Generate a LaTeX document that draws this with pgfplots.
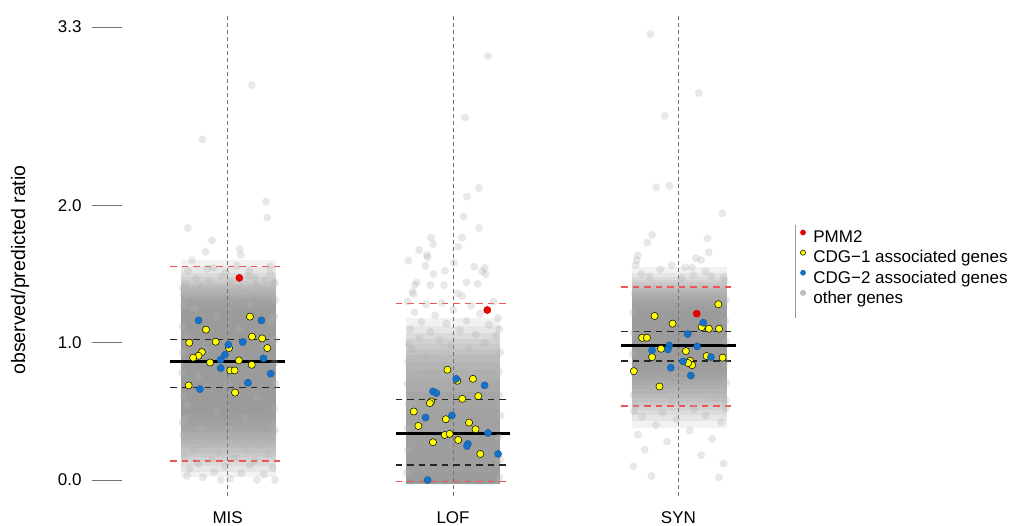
\documentclass[border=0pt]{standalone}
\usepackage{pgfplots}
\pgfplotsset{compat=1.18}
\usepackage{fontspec}
\setmainfont{Liberation Sans}
\definecolor{cdgyellow}{RGB}{255,255,0}
\definecolor{cdgblue}{RGB}{22,114,200}
\definecolor{pmmred}{RGB}{240,0,0}
\definecolor{reddash}{RGB}{238,85,85}
\pgfplotsset{
  cloud/.style={draw=none, fill=black!50, fill opacity=0.105, forget plot},
  gpt/.style={only marks, mark=*, mark size=4pt, mark options={draw opacity=0, fill=black!30, fill opacity=0.3}, forget plot},
  med/.style={black, line width=3.2pt, forget plot},
  quart/.style={black!85, line width=1.3pt, dash pattern=on 6.5pt off 5pt, forget plot},
  ext/.style={reddash, line width=1.3pt, dash pattern=on 6.5pt off 5pt, forget plot},
  vdash/.style={black!55, line width=1pt, dash pattern=on 4pt off 3pt, forget plot},
}
\pgfplotstableread{
lo hi
0.02 1.60
0.06 1.55
0.10 1.51
0.14 1.48
0.17 1.45
0.20 1.43
0.23 1.41
0.26 1.39
0.29 1.37
0.32 1.35
0.35 1.33
0.39 1.31
0.43 1.28
0.48 1.24
}\misbands
\pgfplotstableread{
lo hi
-0.029 1.18
-0.029 1.12
-0.029 1.07
-0.029 1.03
-0.029 0.99
-0.029 0.95
-0.029 0.91
-0.029 0.86
-0.029 0.80
-0.029 0.73
-0.029 0.64
-0.029 0.52
-0.029 0.36
-0.029 0.05
}\lofbands
\pgfplotstableread{
lo hi
0.38 1.55
0.43 1.51
0.47 1.48
0.51 1.46
0.54 1.44
0.57 1.42
0.60 1.40
0.63 1.38
0.66 1.36
0.69 1.34
0.72 1.32
0.75 1.30
0.79 1.27
0.84 1.23
}\synbands
\begin{document}
\begin{tikzpicture}
\path[use as bounding box] (0pt,0pt) rectangle (1011pt,526pt);
\begin{axis}[
  at={(121.7pt,29.5pt)}, anchor=south west,
  x=225.4pt, y=137.3pt,
  xmin=0.53, xmax=3.47, ymin=-0.12, ymax=3.38,
  axis x line*=bottom, axis y line*=left,
  axis line style={draw=none},
  xtick={1,2,3}, xticklabels={MIS,LOF,SYN},
  ytick={0,1,2,3.3}, yticklabels={0.0,1.0,2.0,3.3},
  tick align=outside,
  major tick length=30pt,
  x tick style={draw=none},
  y tick style={draw=black!55, line width=0.8pt},
  ticklabel style={font=\fontsize{17}{20}\selectfont},
  yticklabel style={anchor=east, inner sep=0pt, xshift=-10pt},
  xticklabel style={anchor=base, inner sep=0pt, yshift=3pt},
  legend style={at={(1.0235,0.5556)}, anchor=north west, draw=none, fill=none,
    inner sep=0pt, row sep=3.5pt, column sep=7.5pt,
    font=\fontsize{17}{20}\selectfont,
    nodes={inner sep=0pt, text height=12.5pt, text depth=3.5pt}},
  legend cell align=left,
]
% ---- grey cloud: density layers (one rectangle per row of the band tables) ----
\pgfplotsinvokeforeach{0,...,13}{
  \pgfplotstablegetelem{#1}{lo}\of\misbands \edef\blo{\pgfplotsretval}
  \pgfplotstablegetelem{#1}{hi}\of\misbands \edef\bhi{\pgfplotsretval}
  \edef\temp{\noexpand\addplot[cloud] coordinates {(0.795,\blo) (1.215,\blo) (1.215,\bhi) (0.795,\bhi)};}
  \temp
  \pgfplotstablegetelem{#1}{lo}\of\lofbands \edef\blo{\pgfplotsretval}
  \pgfplotstablegetelem{#1}{hi}\of\lofbands \edef\bhi{\pgfplotsretval}
  \edef\temp{\noexpand\addplot[cloud] coordinates {(1.790,\blo) (2.210,\blo) (2.210,\bhi) (1.790,\bhi)};}
  \temp
  \pgfplotstablegetelem{#1}{lo}\of\synbands \edef\blo{\pgfplotsretval}
  \pgfplotstablegetelem{#1}{hi}\of\synbands \edef\bhi{\pgfplotsretval}
  \edef\temp{\noexpand\addplot[cloud] coordinates {(2.795,\blo) (3.215,\blo) (3.215,\bhi) (2.795,\bhi)};}
  \temp
}
% ---- grey cloud: individual genes ----
\addplot[gpt] coordinates {
(1.107,2.877) (0.888,2.481) (1.170,2.027) (1.176,1.911) (0.823,1.835) (0.930,1.745)
(1.053,1.682) (1.059,1.639) (0.902,1.663) (0.842,1.600) (0.825,1.524) (0.910,1.540)
(0.936,1.546) (1.040,1.560) (1.096,1.520) (1.188,1.500) (1.165,1.456) (0.972,1.481)
(1.092,1.486) (1.188,1.554) (0.860,1.470) (0.815,1.430) (1.010,1.440) (1.130,1.420)
(1.205,1.445) (0.880,1.410) (0.950,1.395) (1.060,1.400) (1.150,1.380) (0.830,1.385)
(0.990,1.510) (1.120,1.470) (0.805,1.350) (1.200,1.340) (0.920,1.450) (1.075,1.360)
(0.820,0.300) (0.900,0.260) (1.010,0.280) (1.150,0.250) (1.200,0.310) (0.850,0.220)
(0.960,0.200) (1.080,0.230) (1.180,0.190) (0.810,0.170) (0.930,0.150) (1.030,0.160)
(1.120,0.140) (0.870,0.120) (0.990,0.100) (1.100,0.110) (1.200,0.090) (0.830,0.080)
(0.940,0.060) (1.060,0.050) (1.160,0.040) (0.890,0.020) (1.010,0.010) (0.970,0.000)
(1.130,0.000) (0.820,0.030) (1.210,0.000)
(0.850,1.250) (0.950,1.200) (1.100,1.280) (1.190,1.150) (0.820,1.050) (1.050,1.100)
(0.900,0.950) (1.160,0.980) (0.870,0.750) (1.000,0.700) (1.130,0.600) (0.820,0.550)
(0.950,0.500) (1.080,0.450) (1.200,0.400) (0.880,0.380) (1.020,0.350) (0.810,0.450)
(0.800,0.420) (0.805,0.610) (0.798,0.780) (0.802,0.930) (0.800,1.120) (0.806,1.270)
(0.803,0.330) (0.800,1.400) (1.210,0.360) (1.205,0.520) (1.212,0.700) (1.208,0.850)
(1.210,1.020) (1.206,1.190) (1.212,1.310) (1.209,1.430)
};
\addplot[gpt] coordinates {
(2.155,3.088) (2.053,2.641) (2.115,2.127) (2.062,2.064) (2.047,1.920) (2.115,1.837)
(1.902,1.765) (1.912,1.719) (2.040,1.765) (2.023,1.699) (1.850,1.675) (1.885,1.640)
(1.887,1.622) (1.802,1.597) (1.877,1.559) (2.004,1.583) (1.964,1.524) (2.094,1.554)
(2.130,1.520) (2.140,1.545) (2.145,1.500) (1.913,1.500) (1.840,1.440) (1.830,1.420)
(1.900,1.420) (1.960,1.420) (2.060,1.440) (2.110,1.430) (1.820,1.370) (1.825,1.355)
(2.020,1.360) (2.040,1.340)
(1.800,1.300) (1.880,1.280) (1.950,1.290) (2.080,1.270) (2.180,1.300) (1.830,1.220)
(1.920,1.200) (2.000,1.240) (2.120,1.210) (2.200,1.180) (1.860,1.150) (1.970,1.140)
(2.060,1.160) (2.160,1.130) (1.810,1.100) (1.900,1.080) (2.030,1.090) (2.100,1.060)
(2.190,1.050) (1.850,1.030) (1.940,1.020) (2.140,1.000) (1.990,0.980) (2.070,0.960)
(1.820,0.950) (1.880,0.900) (2.170,0.880) (1.960,0.860) (2.050,0.820) (1.830,0.780)
(1.795,0.050) (1.800,0.220) (1.798,0.380) (1.802,0.550) (1.797,0.700) (1.800,0.860)
(1.803,0.990) (2.205,0.020) (2.208,0.150) (2.203,0.310) (2.210,0.470) (2.206,0.620)
(2.204,0.790) (2.209,0.930) (2.205,1.100)
};
\addplot[gpt] coordinates {
(2.875,3.248) (3.090,2.819) (2.940,2.653) (2.902,2.132) (2.960,2.143) (3.195,1.942)
(2.883,1.784) (2.862,1.729) (3.129,1.760) (3.134,1.658) (2.820,1.636) (2.815,1.600)
(2.810,1.566) (3.077,1.617) (3.100,1.602) (2.970,1.566) (2.920,1.534) (3.030,1.550)
(3.060,1.548) (3.120,1.520) (2.870,1.480) (3.015,1.470) (3.065,1.490) (3.145,1.485)
(3.200,1.480) (2.835,1.500)
(2.800,0.100) (2.880,0.030) (3.180,0.020) (3.200,0.120) (2.850,0.220) (3.100,0.180)
(2.950,0.280) (3.150,0.300) (2.820,0.330) (3.050,0.360) (2.900,0.400) (3.190,0.420)
(2.990,0.440) (2.840,0.460) (3.120,0.470) (2.930,0.490) (3.070,0.520) (2.810,0.550)
(3.210,0.520) (2.970,0.580) (3.160,0.600)
(2.800,0.620) (2.805,0.770) (2.798,0.920) (2.803,1.070) (2.800,1.220) (2.806,1.360)
(2.802,0.500) (3.210,0.580) (3.212,0.710) (3.206,0.860) (3.210,1.010) (3.208,1.160)
(3.211,1.310) (3.205,1.450)
};
% ---- vertical dashed lines ----
\addplot[vdash] coordinates {(1,-0.12) (1,3.38)};
\addplot[vdash] coordinates {(2,-0.12) (2,3.38)};
\addplot[vdash] coordinates {(3,-0.12) (3,3.38)};
% ---- summary lines ----
% MIS
\addplot[ext] coordinates {(0.746,1.553) (1.254,1.553)};
\addplot[ext] coordinates {(0.746,0.139) (1.254,0.139)};
\addplot[quart] coordinates {(0.746,1.024) (1.254,1.024)};
\addplot[quart] coordinates {(0.746,0.674) (1.254,0.674)};
\addplot[med] coordinates {(0.746,0.864) (1.254,0.864)};
% LOF
\addplot[ext] coordinates {(1.746,1.285) (2.254,1.285)};
\addplot[ext] coordinates {(1.746,-0.012) (2.254,-0.012)};
\addplot[quart] coordinates {(1.746,0.584) (2.254,0.584)};
\addplot[quart] coordinates {(1.746,0.109) (2.254,0.109)};
\addplot[med] coordinates {(1.746,0.336) (2.254,0.336)};
% SYN
\addplot[ext] coordinates {(2.746,1.406) (3.254,1.406)};
\addplot[ext] coordinates {(2.746,0.540) (3.254,0.540)};
\addplot[quart] coordinates {(2.746,1.083) (3.254,1.083)};
\addplot[quart] coordinates {(2.746,0.866) (3.254,0.866)};
\addplot[med] coordinates {(2.746,0.978) (3.254,0.978)};
% ---- highlighted genes ----
\addplot[only marks, mark=*, mark size=3.6pt, mark options={fill=cdgyellow, draw=black, line width=0.5pt}, forget plot] coordinates {
(1.099,1.190) (0.904,1.095) (0.830,1.000) (0.947,1.007) (1.108,1.044) (1.153,1.031)
(1.006,0.961) (1.176,0.961) (0.886,0.932) (0.871,0.905) (0.847,0.891) (0.922,0.856)
(1.050,0.871) (1.107,0.839) (1.012,0.798) (1.031,0.798) (0.827,0.689) (1.033,0.637)
(1.975,0.803) (2.088,0.737) (2.019,0.723) (2.112,0.611) (2.041,0.591) (1.903,0.572)
(1.897,0.560) (1.826,0.499) (1.968,0.443) (2.071,0.418) (1.846,0.394) (2.100,0.370)
(1.963,0.328) (1.985,0.336) (2.023,0.292) (1.911,0.275) (2.121,0.190)
(3.177,1.280) (2.894,1.195) (2.974,1.139) (3.103,1.114) (3.135,1.102) (3.180,1.102)
(2.839,1.036) (2.860,1.036) (2.923,0.956) (3.033,0.939) (2.883,0.895) (3.125,0.903)
(3.196,0.891) (3.051,0.869) (3.061,0.837) (3.043,0.852) (2.802,0.793) (2.916,0.681)
};
\addplot[only marks, mark=*, mark size=3.6pt, mark options={fill=cdgblue, draw=cdgblue!80!black, line width=0.4pt}, forget plot] coordinates {
(0.871,1.163) (1.150,1.163) (1.067,1.005) (1.003,0.985) (0.988,0.912) (0.969,0.876)
(1.159,0.886) (0.969,0.815) (1.191,0.774) (1.090,0.708) (0.877,0.662)
(2.014,0.737) (2.140,0.689) (1.911,0.645) (1.926,0.633) (1.878,0.455) (1.995,0.470)
(2.155,0.343) (2.066,0.263) (2.062,0.248) (2.200,0.190) (1.887,0.000)
(3.110,1.146) (3.041,1.063) (2.959,0.980) (2.953,0.951) (2.883,0.944) (3.083,0.973)
(3.144,0.895) (3.021,0.864) (2.966,0.818) (3.055,0.761)
};
\addplot[only marks, mark=*, mark size=3.6pt, mark options={fill=pmmred, draw=pmmred!80!black, line width=0.4pt}, forget plot] coordinates {
(1.052,1.472) (2.152,1.238) (3.081,1.212)
};
% ---- legend ----
\addlegendimage{legend image code/.code={\draw[fill=pmmred, draw=pmmred!80!black, line width=0.4pt] (0pt,5.8pt) circle (2.6pt);}}
\addlegendentry{PMM2}
\addlegendimage{legend image code/.code={\draw[fill=cdgyellow, draw=black, line width=0.5pt] (0pt,5.8pt) circle (2.6pt);}}
\addlegendentry{CDG−1 associated genes}
\addlegendimage{legend image code/.code={\draw[fill=cdgblue, draw=cdgblue!80!black, line width=0.4pt] (0pt,5.8pt) circle (2.6pt);}}
\addlegendentry{CDG−2 associated genes}
\addlegendimage{legend image code/.code={\draw[fill=black!25, draw=black!35, line width=0.4pt] (0pt,5.8pt) circle (2.6pt);}}
\addlegendentry{other genes}
\end{axis}
\draw[black!40, line width=1pt] (795pt,301pt) -- (795pt,208pt);
\node[rotate=90, font=\fontsize{19.5}{22}\selectfont] at (20pt,256pt) {observed/predicted ratio};
\end{tikzpicture}
\end{document}
